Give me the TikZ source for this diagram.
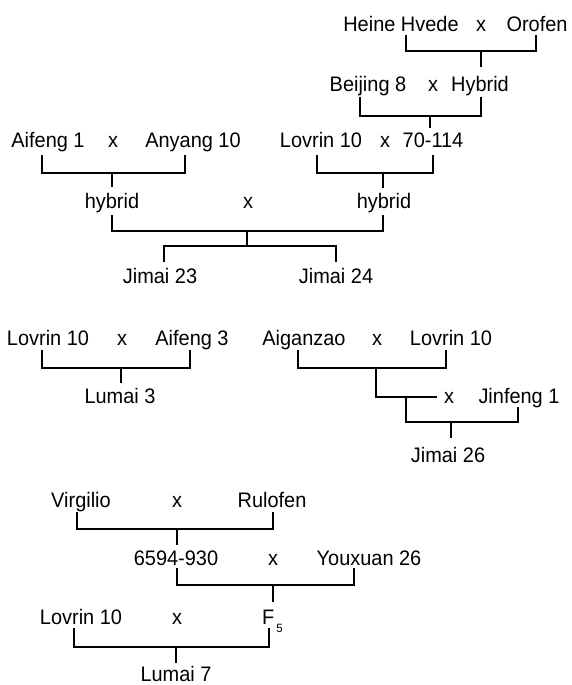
\documentclass[tikz,border=0pt]{standalone}
\usepackage{fontspec}
\setmainfont[FakeStretch=0.95]{Liberation Sans}
\begin{document}
\begin{tikzpicture}[x=1pt,y=-1pt,
  lbl/.style={anchor=base,inner sep=0pt,font=\fontsize{21}{24}\selectfont},
  ln/.style={line width=2.6pt,line join=miter}]
\useasboundingbox (0,0) rectangle (571,685);
% ---------- group A ----------
\node[lbl] (hh) at (401,32) {Heine Hvede};
\node[lbl] (x1) at (481,32) {x};
\node[lbl] (or) at (537,32) {Orofen};
\node[lbl] (bj) at (368,92) {Beijing 8};
\node[lbl] (x2) at (433,92) {x};
\node[lbl] (hyb) at (480,92) {Hybrid};
\node[lbl] (af1) at (48,147) {Aifeng 1};
\node[lbl] (x3) at (113,147) {x};
\node[lbl] (ay) at (193,147) {Anyang 10};
\node[lbl] (lv1) at (321,147) {Lovrin 10};
\node[lbl] (x4) at (385,147) {x};
\node[lbl] (s70) at (433,147) {70-114};
\node[lbl] (hA) at (112,208) {hybrid};
\node[lbl] (x5) at (248,208) {x};
\node[lbl] (hB) at (384,208) {hybrid};
\node[lbl] (j23) at (160,283) {Jimai 23};
\node[lbl] (j24) at (336,283) {Jimai 24};
\coordinate (hhL) at (406,35); \coordinate (hhR) at (536,35);
\coordinate (hhJ) at (481,51); \coordinate (hhS) at (481,67);
\draw[ln] (hhL) -- (hhL|-hhJ) -- (hhR|-hhJ) -- (hhR);
\draw[ln] (hhJ) -- (hhS);
\coordinate (bjL) at (360,97); \coordinate (bjR) at (481,97);
\coordinate (bjJ) at (430,116); \coordinate (bjS) at (430,128);
\draw[ln] (bjL) -- (bjL|-bjJ) -- (bjR|-bjJ) -- (bjR);
\draw[ln] (bjJ) -- (bjS);
\coordinate (afL) at (42,155); \coordinate (afR) at (185,155);
\coordinate (afJ) at (112,173); \coordinate (afS) at (112,187);
\draw[ln] (afL) -- (afL|-afJ) -- (afR|-afJ) -- (afR);
\draw[ln] (afJ) -- (afS);
\coordinate (lvL) at (317,155); \coordinate (lvR) at (433,155);
\coordinate (lvJ) at (383,173); \coordinate (lvS) at (383,188);
\draw[ln] (lvL) -- (lvL|-lvJ) -- (lvR|-lvJ) -- (lvR);
\draw[ln] (lvJ) -- (lvS);
\coordinate (hyL) at (112,215); \coordinate (hyR) at (383,215);
\coordinate (hyJ) at (247,231); \coordinate (hyS) at (247,246);
\draw[ln] (hyL) -- (hyL|-hyJ) -- (hyR|-hyJ) -- (hyR);
\draw[ln] (hyJ) -- (hyS);
\coordinate (jL) at (164,262); \coordinate (jR) at (336,262);
\draw[ln] (jL) -- (jL|-hyS) -- (jR|-hyS) -- (jR);
% ---------- group B ----------
\node[lbl] (lv2) at (48,345) {Lovrin 10};
\node[lbl] (x6) at (122,345) {x};
\node[lbl] (af3) at (192,345) {Aifeng 3};
\node[lbl] (lu3) at (120,403) {Lumai 3};
\node[lbl] (ag) at (304,345) {Aiganzao};
\node[lbl] (x7) at (377,345) {x};
\node[lbl] (lv3) at (451,345) {Lovrin 10};
\node[lbl] (x8) at (449,403) {x};
\node[lbl] (jf1) at (519,403) {Jinfeng 1};
\node[lbl] (j26) at (448,462) {Jimai 26};
\coordinate (l3L) at (42,350); \coordinate (l3R) at (190,350);
\coordinate (l3J) at (121,368); \coordinate (l3S) at (121,383);
\draw[ln] (l3L) -- (l3L|-l3J) -- (l3R|-l3J) -- (l3R);
\draw[ln] (l3J) -- (l3S);
\coordinate (agL) at (298,350); \coordinate (agR) at (446,350);
\coordinate (agJ) at (376,368); \coordinate (agK) at (376,397);
\coordinate (agE) at (437,397);
\draw[ln] (agL) -- (agL|-agJ) -- (agR|-agJ) -- (agR);
\draw[ln] (agJ) -- (agK) -- (agE);
\coordinate (jfL) at (406,397); \coordinate (jfR) at (518,407);
\coordinate (jfJ) at (451,422); \coordinate (jfS) at (451,438);
\draw[ln] (jfL) -- (jfL|-jfJ) -- (jfR|-jfJ) -- (jfR);
\draw[ln] (jfJ) -- (jfS);
% ---------- group C ----------
\node[lbl] (vg) at (81,507) {Virgilio};
\node[lbl] (x9) at (177,507) {x};
\node[lbl] (ru) at (272,507) {Rulofen};
\node[lbl] (s65) at (176,565) {6594-930};
\node[lbl] (x10) at (273,565) {x};
\node[lbl] (yx) at (369,565) {Youxuan 26};
\node[lbl] (lv4) at (81,624) {Lovrin 10};
\node[lbl] (x11) at (177,624) {x};
\node[lbl,anchor=base west] (f5) at (262,624) {F\hspace{2pt}\raisebox{-8pt}{\fontsize{12}{12}\selectfont 5}};
\node[lbl] (lu7) at (176,681) {Lumai 7};
\coordinate (vgL) at (77,512); \coordinate (vgR) at (273,512);
\coordinate (vgJ) at (177,529); \coordinate (vgS) at (177,545);
\draw[ln] (vgL) -- (vgL|-vgJ) -- (vgR|-vgJ) -- (vgR);
\draw[ln] (vgJ) -- (vgS);
\coordinate (sxL) at (177,568); \coordinate (sxR) at (354,568);
\coordinate (sxJ) at (273,585); \coordinate (sxS) at (273,602);
\draw[ln] (sxL) -- (sxL|-sxJ) -- (sxR|-sxJ) -- (sxR);
\draw[ln] (sxJ) -- (sxS);
\coordinate (l7L) at (74,628); \coordinate (l7R) at (269,628);
\coordinate (l7J) at (176,647); \coordinate (l7S) at (176,663);
\draw[ln] (l7L) -- (l7L|-l7J) -- (l7R|-l7J) -- (l7R);
\draw[ln] (l7J) -- (l7S);
\end{tikzpicture}
\end{document}
